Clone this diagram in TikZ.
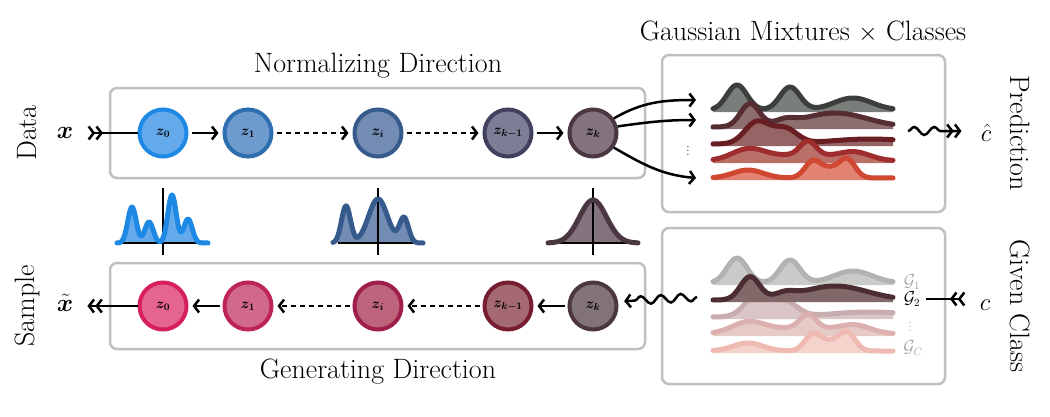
\documentclass[tikz,border=0pt]{standalone}
\usepackage{amsmath,amssymb,bm}
\usetikzlibrary{arrows.meta,decorations.pathmorphing}
% circle colours
\definecolor{cTb0}{RGB}{30,136,229}\definecolor{cTf0}{RGB}{100,170,235}
\definecolor{cTb1}{RGB}{45,110,175}\definecolor{cTf1}{RGB}{110,155,205}
\definecolor{cTbi}{RGB}{55,90,140}\definecolor{cTfi}{RGB}{115,140,180}
\definecolor{cTbm}{RGB}{65,65,95}\definecolor{cTfm}{RGB}{125,125,150}
\definecolor{cTbk}{RGB}{75,55,65}\definecolor{cTfk}{RGB}{130,115,125}
\definecolor{cBb0}{RGB}{215,30,95}\definecolor{cBf0}{RGB}{230,100,145}
\definecolor{cBb1}{RGB}{190,35,90}\definecolor{cBf1}{RGB}{210,105,140}
\definecolor{cBbi}{RGB}{160,30,75}\definecolor{cBfi}{RGB}{190,100,125}
\definecolor{cBbm}{RGB}{120,30,50}\definecolor{cBfm}{RGB}{165,105,115}
\definecolor{cBbk}{RGB}{75,55,60}\definecolor{cBfk}{RGB}{130,115,120}
% ridge colours
\definecolor{rAl}{RGB}{60,62,60}\definecolor{rAf}{RGB}{122,126,122}
\definecolor{rBl}{RGB}{85,45,50}\definecolor{rBf}{RGB}{140,110,110}
\definecolor{rCl}{RGB}{105,30,35}\definecolor{rCf}{RGB}{150,100,100}
\definecolor{rDl}{RGB}{160,45,45}\definecolor{rDf}{RGB}{185,112,105}
\definecolor{rEl}{RGB}{208,72,50}\definecolor{rEf}{RGB}{225,130,115}
\definecolor{sAl}{RGB}{177,178,177}\definecolor{sAf}{RGB}{201,203,201}
\definecolor{sBl}{RGB}{75,45,50}\definecolor{sBf}{RGB}{130,105,105}
\definecolor{sCl}{RGB}{200,172,174}\definecolor{sCf}{RGB}{218,198,198}
\definecolor{sDl}{RGB}{220,176,174}\definecolor{sDf}{RGB}{230,202,198}
\definecolor{sEl}{RGB}{238,186,178}\definecolor{sEf}{RGB}{245,210,203}
\definecolor{boxgray}{RGB}{192,192,192}
\definecolor{lblgray}{RGB}{165,165,165}
% #1 baseline, #2 fill, #3 line, #4 height expression in \x
\newcommand{\myridge}[4]{%
  \begin{scope}[shift={(0,#1)}]
    \fill[#2] plot[domain=713:893, samples=91] (\x, {-(#4)}) -- (893,2) -- (713,2) -- cycle;
    \draw[curve,#3] plot[domain=713:893, samples=91] (\x, {-(#4)});
  \end{scope}}
\newcommand{\ridgeA}[3]{\myridge{#1}{#2}{#3}{25*gk(\x,737,10)+23*gk(\x,790,10)+12*gk(\x,853,19)}}
\newcommand{\ridgeB}[3]{\myridge{#1}{#2}{#3}{23*gk(\x,750,9.5)+5*gk(\x,785,10)+14*gk(\x,835,32)}}
\newcommand{\ridgeC}[3]{\myridge{#1}{#2}{#3}{22*gk(\x,757,12)+15*gk(\x,785,12)+5*gk(\x,870,40)}}
\newcommand{\ridgeD}[3]{\myridge{#1}{#2}{#3}{10*gk(\x,748,16)+14*gk(\x,808,8)+7*gk(\x,855,15)+6*gk(\x,800,40)}}
\newcommand{\ridgeE}[3]{\myridge{#1}{#2}{#3}{8*gk(\x,748,15)+17*gk(\x,813,8)+8*gk(\x,830,8)+19*gk(\x,847,8)}}
\begin{document}
\begin{tikzpicture}[x=1pt,y=-1pt,
  declare function={gk(\x,\m,\s)=exp(-min(9,((\x-\m)/\s)*((\x-\m)/\s)/2));},
  font=\fontsize{28}{33}\selectfont,
  >={Straight Barb[length=5pt,width=13pt]},
  box/.style={draw=boxgray, line width=2.5pt, rounded corners=7pt},
  zn/.style={circle, line width=4pt, minimum size=47pt, inner sep=0pt, font=\fontsize{14}{14}\selectfont},
  lbl/.style={inner sep=2pt},
  side/.style={inner sep=1pt},
  conn/.style={line width=2.5pt},
  dconn/.style={conn, dash pattern=on 5pt off 4pt},
  curve/.style={line width=5pt, line cap=round, line join=round},
  axisline/.style={line width=1.5pt, black},
  glab/.style={inner sep=1pt, font=\fontsize{16}{16}\selectfont},
  dotlab/.style={inner sep=0pt, font=\fontsize{12}{12}\selectfont},
  wave/.style={conn, decorate, decoration={snake, amplitude=4pt, segment length=20pt}}
]
\fill[white] (0,0) rectangle (1050,416);
\useasboundingbox (0,0) rectangle (1050,416);

% boxes
\draw[box] (110,88) rectangle (645,178);
\draw[box] (110,263) rectangle (645,349);
\draw[box] (662,55) rectangle (945,212);
\draw[box] (662,228) rectangle (945,384);

% titles
\node (tn) at (378,66) {Normalizing Direction};
\node (tg) at (378,372) {Generating Direction};
\node (tm) at (803,32) {Gaussian Mixtures $\times$ Classes};
\node[side, rotate=90] (ld) at (27,133) {Data};
\node[side, rotate=90] (ls) at (27,306) {Sample};
\node[side, rotate=-90] (lp) at (1020,133) {Prediction};
\node[side, rotate=-90] (lc) at (1020,306) {Given Class};

% top row
\node[zn, draw=cTb0, fill=cTf0] (a0) at (163,133) {$\bm{z_0}$};
\node[zn, draw=cTb1, fill=cTf1] (a1) at (248,133) {$\bm{z_1}$};
\node[zn, draw=cTbi, fill=cTfi] (ai) at (378,133) {$\bm{z_i}$};
\node[zn, draw=cTbm, fill=cTfm] (am) at (508,133) {$\bm{z_{k-1}}$};
\node[zn, draw=cTbk, fill=cTfk] (ak) at (593,133) {$\bm{z_k}$};
\node[lbl] (x) at (65,133) {$\bm{x}$};
\draw[conn,>>-, shorten <=12pt] (x) -- (a0);
\draw[conn,->, shorten <=3pt, shorten >=4pt] (a0) -- (a1);
\draw[dconn,->, shorten <=3pt, shorten >=4pt] (a1) -- (ai);
\draw[dconn,->, shorten <=3pt, shorten >=4pt] (ai) -- (am);
\draw[conn,->, shorten <=3pt, shorten >=4pt] (am) -- (ak);

% bottom row
\node[zn, draw=cBb0, fill=cBf0] (b0) at (163,306) {$\bm{z_0}$};
\node[zn, draw=cBb1, fill=cBf1] (b1) at (248,306) {$\bm{z_1}$};
\node[zn, draw=cBbi, fill=cBfi] (bi) at (378,306) {$\bm{z_i}$};
\node[zn, draw=cBbm, fill=cBfm] (bm) at (508,306) {$\bm{z_{k-1}}$};
\node[zn, draw=cBbk, fill=cBfk] (bk) at (593,306) {$\bm{z_k}$};
\node[lbl] (xt) at (65,303) {$\tilde{\bm{x}}$};
\draw[conn,->>, shorten >=12pt] (b0) -- (b0 -| xt.east);
\draw[conn,->, shorten <=3pt, shorten >=4pt] (b1) -- (b0);
\draw[dconn,->, shorten <=3pt, shorten >=4pt] (bi) -- (b1);
\draw[dconn,->, shorten <=3pt, shorten >=4pt] (bm) -- (bi);
\draw[conn,->, shorten <=3pt, shorten >=4pt] (bk) -- (bm);

% distributions between rows
\fill[cTf0] plot[domain=117:208, samples=92] (\x, {243-(36*gk(\x,132,4.2)+21*gk(\x,149,4.2)+48*gk(\x,172,4.2)+24*gk(\x,188,4.2))}) -- cycle;
\draw[axisline] (122,243) -- (203,243);
\draw[axisline] (163,188) -- (163,255);
\draw[curve, cTb0] plot[domain=117:208, samples=92] (\x, {243-(36*gk(\x,132,4.2)+21*gk(\x,149,4.2)+48*gk(\x,172,4.2)+24*gk(\x,188,4.2))});

\fill[cTfi] plot[domain=333:423, samples=91] (\x, {243-(37*gk(\x,346,4.5)+44*gk(\x,378,9.5)+25*gk(\x,404,4.5))}) -- cycle;
\draw[axisline] (338,243) -- (418,243);
\draw[axisline] (378,188) -- (378,255);
\draw[curve, cTbi] plot[domain=333:423, samples=91] (\x, {243-(37*gk(\x,346,4.5)+44*gk(\x,378,9.5)+25*gk(\x,404,4.5))});

\fill[cTfk] plot[domain=548:638, samples=61] (\x, {243-43*gk(\x,593,13.5)}) -- cycle;
\draw[axisline] (553,243) -- (633,243);
\draw[axisline] (593,188) -- (593,255);
\draw[curve, cTbk] plot[domain=548:638, samples=61] (\x, {243-43*gk(\x,593,13.5)});

% top-right ridges
\ridgeA{110}{rAf}{rAl}
\ridgeB{127}{rBf}{rBl}
\ridgeC{144}{rCf}{rCl}
\ridgeD{161}{rDf}{rDl}
\ridgeE{178}{rEf}{rEl}
\coordinate (t1) at (696,100);
\coordinate (t2) at (696,120);
\coordinate (t3) at (696,178);
\draw[conn,->] (ak.35) to[out=30,in=180] (t1);
\draw[conn,->] (ak.15) to[out=8,in=180] (t2);
\draw[conn,->] (ak.-35) to[out=-30,in=175] (t3);
\node[dotlab] (vd1) at (688,148) {$\vdots$};
\node[lbl] (chat) at (986,133) {$\hat{c}$};
\coordinate (w1) at (908,131);
\draw[wave, decoration={post length=35pt}, ->>, shorten >=17pt] (w1) -- (w1 -| chat.west);

% bottom-right ridges
\ridgeA{283}{sAf}{sAl}
\ridgeC{317}{sCf}{sCl}
\ridgeD{334}{sDf}{sDl}
\ridgeE{351}{sEf}{sEl}
\ridgeB{300}{sBf}{sBl}
\node[glab, text=lblgray] (g1) at (912,282) {$\mathcal{G}_1$};
\node[glab] (g2) at (912,299) {$\mathcal{G}_2$};
\node[dotlab, text=lblgray] (vd2) at (910,324) {$\vdots$};
\node[glab, text=lblgray] (gc) at (913,348) {$\mathcal{G}_C$};
\node[lbl] (c) at (985,305) {$c$};
\draw[conn,>>-, shorten <=12pt, shorten >=5pt] (g2.east -| c.west) -- (g2.east);
\coordinate (w2) at (697,297);
\draw[wave, decoration={post length=12pt}, ->, shorten >=6pt] (w2) -- (bk.10);
\end{tikzpicture}
\end{document}
